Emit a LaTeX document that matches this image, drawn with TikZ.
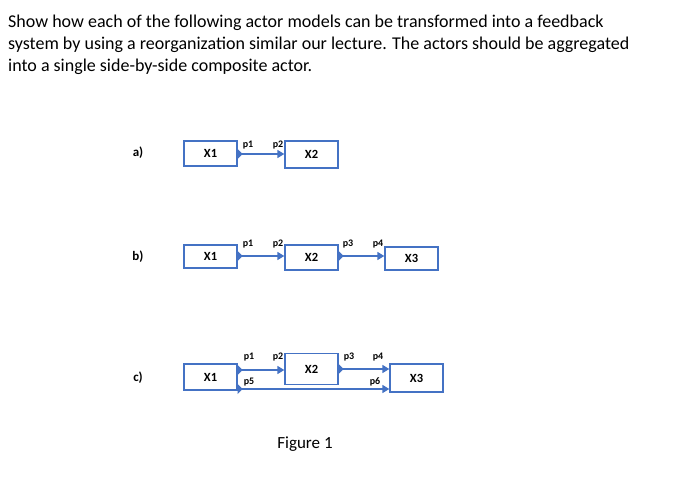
\documentclass[tikz,border=0pt]{standalone}
\usepackage{fontspec}
\setmainfont{Carlito}
\usetikzlibrary{arrows.meta}
\definecolor{bl}{RGB}{68,114,196}
\begin{document}
\begin{tikzpicture}[x=1pt,y=-1pt,
  actor/.style={draw=bl,line width=1.3pt,fill=white,font=\fontsize{12.5}{12}\selectfont\bfseries},
  conn/.style={bl,line width=1.5pt,-{Triangle[length=7pt,width=8pt]}},
  port/.style={font=\fontsize{10}{10}\selectfont\bfseries,inner sep=0pt},
  lab/.style={font=\fontsize{13}{13}\selectfont\bfseries}]
\useasboundingbox (0,0) rectangle (685,487);
\node[anchor=north west,align=left,inner sep=0pt,font=\fontsize{18}{22}\selectfont] (title) at (8,15)
 {Show how each of the following actor models can be transformed into a feedback\\
  system by using a reorganization similar our lecture. The actors should be aggregated\\
  into a single side-by-side composite actor.};
% a
\node[lab] (la) at (138,153) {a)};
\node[actor,minimum width=53pt,minimum height=25pt] (a1) at (210.5,153.5) {X1};
\node[actor,minimum width=53pt,minimum height=27pt] (a2) at (311.5,154.5) {X2};
\draw[conn] (a1.east |- 0,154) coordinate (ap1) -- (a2.west |- 0,154) coordinate (ap2);
\fill[bl] (ap1) ++(0,-5) -- ++(5,5) -- ++(-5,5) -- cycle;
\node[port] (pa1) at (248,145) {p1};
\node[port] (pa2) at (278,145) {p2};
% b
\node[lab] (lb) at (138,257) {b)};
\node[actor,minimum width=53pt,minimum height=23pt] (b1) at (210.5,256.5) {X1};
\node[actor,minimum width=53pt,minimum height=25pt] (b2) at (311.5,257.5) {X2};
\node[actor,minimum width=53pt,minimum height=23pt] (b3) at (411.5,258.5) {X3};
\draw[conn] (b1.east |- 0,256) coordinate (bp1) -- (b2.west |- 0,256);
\draw[conn] (b2.east |- 0,256) coordinate (bp3) -- (b3.west |- 0,256);
\fill[bl] (bp1) ++(0,-5) -- ++(5,5) -- ++(-5,5) -- cycle;
\fill[bl] (bp3) ++(0,-5) -- ++(5,5) -- ++(-5,5) -- cycle;
\node[port] (pb1) at (248,244) {p1};
\node[port] (pb2) at (278,244) {p2};
\node[port] (pb3) at (348,244) {p3};
\node[port] (pb4) at (378,244) {p4};
% c
\node[lab] (lc) at (138,378) {c)};
\node[actor,minimum width=53pt,minimum height=26pt] (c1) at (210.5,377) {X1};
\node[actor,minimum width=53pt,minimum height=31pt] (c2) at (311.5,369) {X2};
\node[actor,minimum width=53pt,minimum height=28pt] (c3) at (416.5,378) {X3};
\draw[conn] (c1.east |- 0,370) coordinate (cp1) -- (c2.west |- 0,370);
\draw[conn] (c2.east |- 0,369) coordinate (cp3) -- (c3.west |- 0,369);
\draw[conn] (c1.east |- 0,389) coordinate (cp5) -- (c3.west |- 0,389);
\fill[bl] (cp1) ++(0,-5) -- ++(5,5) -- ++(-5,5) -- cycle;
\fill[bl] (cp3) ++(0,-5) -- ++(5,5) -- ++(-5,5) -- cycle;
\fill[bl] (cp5) ++(0,-5) -- ++(5,5) -- ++(-5,5) -- cycle;
\node[port] (pc1) at (249,357) {p1};
\node[port] (pc2) at (278,357) {p2};
\node[port] (pc3) at (349,357) {p3};
\node[port] (pc4) at (378,357) {p4};
\node[port] (pc5) at (249,382) {p5};
\node[port] (pc6) at (375,382) {p6};
\node[font=\fontsize{17}{17}\selectfont] (fig) at (305,444) {Figure 1};
\end{tikzpicture}
\end{document}
